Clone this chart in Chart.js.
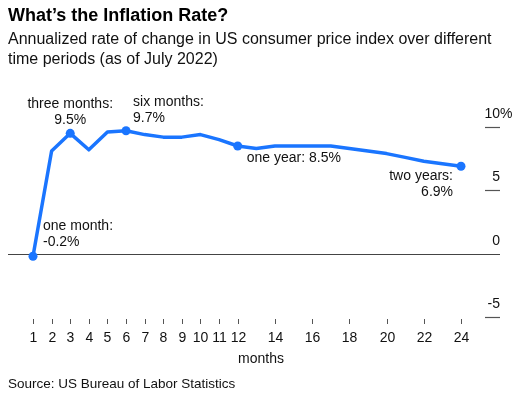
<!DOCTYPE html>
<html>
<head>
<meta charset="utf-8">
<script src="https://cdn.jsdelivr.net/npm/chart.js@4"></script>
<style>
html,body{margin:0;padding:0;background:#fff;}
#wrap{width:523px;height:399px;position:relative;}
</style>
</head>
<body>
<div id="wrap"><canvas id="c" width="523" height="399"></canvas></div>
<script>
// ---- data ----
const months = [1,2,3,4,5,6,7,8,9,10,11,12,13,14,15,16,17,18,19,20,21,22,23,24];
const cpiRate = [-0.2,8.1,9.5,8.2,9.6,9.7,9.4,9.2,9.2,9.4,9.0,8.5,8.3,8.5,8.5,8.5,8.5,8.3,8.1,7.9,7.6,7.3,7.1,6.9];
const highlightMonths = [1,3,6,12,24];
const xTickValues = [1,2,3,4,5,6,7,8,9,10,11,12,14,16,18,20,22,24];
const yTickValues = [10,5,0,-5];
const titleText = "What’s the Inflation Rate?";
const subtitleLines = ["Annualized rate of change in US consumer price index over different","time periods (as of July 2022)"];
const xAxisTitle = "months";
const sourceText = "Source: US Bureau of Labor Statistics";
const annotationMonths = [1,3,6,12,24];
const annotationTexts = [["one month:","-0.2%"],["three months:","9.5%"],["six months:","9.7%"],["one year: 8.5%"],["two years:","6.9%"]];

// ---- styling / placement (not data) ----
const FONT = '"Liberation Sans", Arial, Helvetica, sans-serif';
const BLUE = '#1a75ff';
const annLayout = {
  1:  {dx: 10, dy: -30, align: 'left'},
  3:  {dx: 0,  dy: -29, align: 'center'},
  6:  {dx: 7,  dy: -29, align: 'left'},
  12: {dx: 9,  dy: 12,  align: 'left'},
  24: {dx: -8, dy: 10,  align: 'right'}
};

const decorPlugin = {
  id: 'decor',
  beforeDatasetsDraw(chart) {
    const ctx = chart.ctx;
    const xs = chart.scales.x, ys = chart.scales.y;
    ctx.save();
    ctx.textBaseline = 'middle';
    // title
    ctx.fillStyle = '#000';
    ctx.textAlign = 'left';
    ctx.font = 'bold 18px ' + FONT;
    ctx.fillText(titleText, 8, 16);
    ctx.font = '16px ' + FONT;
    ctx.fillStyle = '#111';
    subtitleLines.forEach((l, i) => ctx.fillText(l, 8, 40 + i * 20));
    // source
    ctx.font = '13.5px ' + FONT;
    ctx.fillText(sourceText, 8, 384);
    // x axis title
    ctx.font = '14px ' + FONT;
    ctx.textAlign = 'center';
    ctx.fillText(xAxisTitle, 261, 359);
    // x ticks
    ctx.strokeStyle = '#555';
    ctx.lineWidth = 1;
    xTickValues.forEach(v => {
      const x = Math.round(xs.getPixelForValue(v)) + 0.5;
      ctx.beginPath(); ctx.moveTo(x, 319); ctx.lineTo(x, 324); ctx.stroke();
      ctx.fillText(String(v), x, 338);
    });
    // y ticks (right side)
    yTickValues.forEach(v => {
      const y = Math.round(ys.getPixelForValue(v)) + 0.5;
      ctx.strokeStyle = v === 0 ? '#444' : '#555';
      ctx.lineWidth = 1.2;
      ctx.beginPath();
      ctx.moveTo(v === 0 ? 8 : 485, y);
      ctx.lineTo(500, y);
      ctx.stroke();
      ctx.fillStyle = '#111';
      ctx.textAlign = 'right';
      ctx.font = '14px ' + FONT;
      ctx.fillText(String(v), 500, y - 13);
      if (v === yTickValues[0]) {
        ctx.textAlign = 'left';
        ctx.fillText('%', 500, y - 13);
      }
    });
    ctx.restore();
  },
  afterDatasetsDraw(chart) {
    const ctx = chart.ctx;
    const xs = chart.scales.x, ys = chart.scales.y;
    ctx.save();
    ctx.font = '14px ' + FONT;
    ctx.fillStyle = '#111';
    ctx.textBaseline = 'middle';
    annotationMonths.forEach((m, i) => {
      const idx = months.indexOf(m);
      const px = xs.getPixelForValue(m), py = ys.getPixelForValue(cpiRate[idx]);
      const L = annLayout[m];
      ctx.textAlign = L.align;
      annotationTexts[i].forEach((t, j) => ctx.fillText(t, px + L.dx, py + L.dy + j * 16));
    });
    ctx.restore();
  }
};

new Chart(document.getElementById('c'), {
  type: 'line',
  data: {
    labels: months,
    datasets: [{
      data: months.map((m, i) => ({x: m, y: cpiRate[i]})),
      borderColor: BLUE,
      backgroundColor: BLUE,
      borderWidth: 3.5,
      borderJoinStyle: 'round',
      tension: 0,
      pointRadius: months.map(m => highlightMonths.includes(m) ? 4.5 : 0),
      pointHoverRadius: 0,
      pointBorderWidth: 0,
      clip: false
    }]
  },
  options: {
    responsive: false,
    devicePixelRatio: 1,
    animation: false,
    events: [],
    layout: {padding: {left: 33, right: 62, top: 127, bottom: 82}},
    plugins: {legend: {display: false}, tooltip: {enabled: false}, title: {display: false}},
    scales: {
      x: {type: 'linear', min: 1, max: 24, display: false},
      y: {type: 'linear', min: -5, max: 10, display: false}
    }
  },
  plugins: [decorPlugin]
});
</script>
</body>
</html>
